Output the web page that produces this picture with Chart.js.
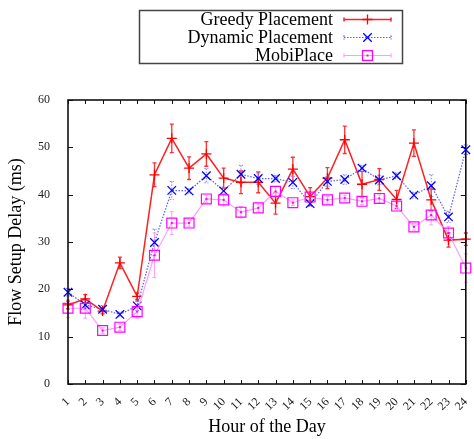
<!DOCTYPE html>
<html>
<head>
<meta charset="utf-8">
<script src="https://cdn.jsdelivr.net/npm/chart.js@4/dist/chart.umd.min.js"></script>
<style>
  html, body { margin: 0; padding: 0; background: #fff; }
  #wrap { width: 474px; height: 439px; }
</style>
</head>
<body>
<div id="wrap"><canvas id="delayChart"></canvas></div>
<script>
const hours = ['1','2','3','4','5','6','7','8','9','10','11','12','13','14','15','16','17','18','19','20','21','22','23','24'];

const greedy    = [16.7, 18.0, 15.4, 25.6, 18.5, 44.2, 51.9, 45.6, 48.6, 43.5, 42.6, 42.6, 38.2, 45.4, 39.6, 43.5, 51.6, 42.2, 43.2, 39.0, 50.9, 38.9, 30.4, 30.6];
const greedyErr = [0.8, 0.9, 0.6, 1.2, 0.7, 2.5, 3.0, 2.4, 2.6, 2.1, 2.4, 2.2, 2.3, 2.5, 1.9, 2.2, 2.9, 2.7, 2.3, 1.9, 2.8, 2.3, 1.5, 1.3];

const dynamic    = [19.4, 16.7, 15.8, 14.7, 16.5, 29.9, 40.9, 40.8, 44.0, 40.8, 44.3, 43.4, 43.4, 42.6, 38.1, 42.8, 43.2, 45.6, 43.1, 44.0, 39.9, 41.9, 35.3, 49.5];
const dynamicErr = [0.8, 1.0, 0.8, 0.5, 1.0, 2.8, 1.9, 0.5, 1.5, 0.8, 1.9, 1.2, 0.7, 1.3, 0.6, 1.0, 1.0, 0.6, 1.0, 0.6, 0.6, 2.3, 1.2, 1.0];

const mobi    = [16.0, 16.0, 11.3, 12.0, 15.3, 27.2, 34.0, 34.0, 39.1, 38.9, 36.3, 37.2, 40.7, 38.3, 39.5, 38.9, 39.3, 38.6, 39.2, 37.6, 33.2, 35.7, 31.9, 24.5];
const mobiErr = [1.9, 2.1, 0.6, 0.7, 1.4, 4.7, 2.4, 0.7, 0.8, 1.3, 1.2, 0.8, 1.0, 0.6, 0.6, 0.7, 0.6, 0.7, 0.8, 0.8, 0.7, 2.1, 1.4, 3.0];

const seriesNames = ['Greedy Placement', 'Dynamic Placement', 'MobiPlace'];

const serif = "'Liberation Serif', 'DejaVu Serif', serif";

// gnuplot-ish extras: error bars, boxed frame with inward ticks, legend box
const gnuplotLook = {
  id: 'gnuplotLook',
  beforeDatasetsDraw(chart) {
    const ctx = chart.ctx;
    const xs = chart.scales.x, ys = chart.scales.y;
    chart.data.datasets.forEach((ds) => {
      ctx.save();
      ctx.strokeStyle = ds.errColor;
      ctx.lineWidth = ds.errWidth;
      ctx.setLineDash(ds.errDash || []);
      ds.data.forEach((v, j) => {
        const px = xs.getPixelForValue(j);
        const top = ys.getPixelForValue(v + ds.err[j]);
        const bot = ys.getPixelForValue(v - ds.err[j]);
        ctx.beginPath();
        ctx.moveTo(px, top); ctx.lineTo(px, bot);
        ctx.moveTo(px - 2, top); ctx.lineTo(px + 2, top);
        ctx.moveTo(px - 2, bot); ctx.lineTo(px + 2, bot);
        ctx.stroke();
      });
      ctx.restore();
    });
  },
  afterDatasetsDraw(chart) {
    // little dot inside the MobiPlace boxes
    const ctx = chart.ctx;
    const meta = chart.getDatasetMeta(2);
    ctx.save();
    ctx.fillStyle = '#ff00ff';
    meta.data.forEach(p => { ctx.fillRect(p.x - 1, p.y - 1, 2, 2); });
    ctx.restore();
  },
  afterDraw(chart) {
    const ctx = chart.ctx;
    const a = chart.chartArea;
    const xs = chart.scales.x, ys = chart.scales.y;
    ctx.save();
    ctx.strokeStyle = '#111';
    ctx.lineWidth = 1;
    ctx.beginPath();
    ys.ticks.forEach((t, i) => {
      const py = Math.round(ys.getPixelForTick(i)) + 0.5;
      ctx.moveTo(a.left, py); ctx.lineTo(a.left + 5, py);
      ctx.moveTo(a.right, py); ctx.lineTo(a.right - 5, py);
    });
    xs.ticks.forEach((t, i) => {
      const px = Math.round(xs.getPixelForTick(i)) + 0.5;
      ctx.moveTo(px, a.bottom); ctx.lineTo(px, a.bottom - 4);
      ctx.moveTo(px, a.top); ctx.lineTo(px, a.top + 4);
    });
    ctx.stroke();
    ctx.lineWidth = 1.6;
    ctx.strokeRect(a.left, a.top, a.right - a.left, a.bottom - a.top);

    // legend
    ctx.strokeStyle = '#444';
    ctx.lineWidth = 1.5;
    ctx.strokeRect(139.5, 10.5, 263, 53);
    ctx.font = '18px ' + serif;
    ctx.textAlign = 'right';
    ctx.textBaseline = 'middle';
    chart.data.datasets.forEach((ds, i) => {
      const y = 19.5 + i * 18;
      ctx.fillStyle = '#000';
      ctx.fillText(ds.label, 333, y + 1);
      ctx.save();
      ctx.strokeStyle = ds.borderColor;
      ctx.lineWidth = ds.borderWidth;
      ctx.setLineDash(ds.borderDash || []);
      ctx.beginPath();
      ctx.moveTo(344, y); ctx.lineTo(391, y);
      ctx.moveTo(344, y - 2); ctx.lineTo(344, y + 2);
      ctx.moveTo(391, y - 2); ctx.lineTo(391, y + 2);
      ctx.stroke();
      ctx.setLineDash([]);
      ctx.strokeStyle = ds.pointBorderColor;
      ctx.fillStyle = 'rgba(0,0,0,0)';
      ctx.lineWidth = ds.pointBorderWidth;
      Chart.helpers.drawPoint(ctx, { pointStyle: ds.pointStyle, radius: ds.pointRadius, rotation: 0, borderWidth: ds.pointBorderWidth }, 367.5, y);
      if (i === 2) { ctx.fillStyle = '#ff00ff'; ctx.fillRect(366.5, y - 1, 2, 2); }
      ctx.restore();
    });
    ctx.restore();
  }
};

new Chart(document.getElementById('delayChart'), {
  type: 'line',
  data: {
    labels: hours,
    datasets: [
      {
        label: seriesNames[0], data: greedy, err: greedyErr,
        borderColor: '#ff2020', borderWidth: 1.5,
        pointStyle: 'cross', pointRadius: 5, pointBorderColor: '#ff0000', pointBorderWidth: 1.3,
        pointBackgroundColor: 'rgba(0,0,0,0)',
        errColor: '#ff3030', errWidth: 1.3,
        order: 3, clip: false, tension: 0
      },
      {
        label: seriesNames[1], data: dynamic, err: dynamicErr,
        borderColor: '#5a5aff', borderWidth: 1.2, borderDash: [1.5, 1.5],
        pointStyle: 'crossRot', pointRadius: 6, pointBorderColor: '#0000ff', pointBorderWidth: 1.3,
        pointBackgroundColor: 'rgba(0,0,0,0)',
        errColor: '#7a7aff', errWidth: 1, errDash: [1.5, 1.5],
        order: 2, clip: false, tension: 0
      },
      {
        label: seriesNames[2], data: mobi, err: mobiErr,
        borderColor: '#ff9cff', borderWidth: 1.2,
        pointStyle: 'rect', pointRadius: 7, pointBorderColor: '#ff00ff', pointBorderWidth: 1.2,
        pointBackgroundColor: 'rgba(0,0,0,0)',
        errColor: '#ff9cff', errWidth: 1,
        order: 1, clip: false, tension: 0
      }
    ]
  },
  options: {
    responsive: true,
    maintainAspectRatio: false,
    animation: false,
    layout: { padding: { top: 100, right: 1, left: 0, bottom: 0 } },
    plugins: { legend: { display: false }, tooltip: { enabled: false } },
    scales: {
      x: {
        type: 'category',
        offset: false,
        grid: { display: false },
        border: { display: false },
        ticks: {
          autoSkip: false, maxRotation: 45, minRotation: 45, padding: 3,
          color: '#222', font: { family: serif, size: 12 }
        },
        title: {
          display: true, text: 'Hour of the Day', color: '#000',
          font: { family: serif, size: 18 }, padding: { top: 0, bottom: 1 }
        },
        afterFit: s => { s.height = 55; s.paddingRight = 0; }
      },
      y: {
        min: 0, max: 60,
        grid: { display: false },
        border: { display: false },
        ticks: { stepSize: 10, padding: 10, color: '#222', font: { family: serif, size: 12 } },
        title: {
          display: true, text: 'Flow Setup Delay (ms)', color: '#000',
          font: { family: serif, size: 18 }, padding: { top: 5, bottom: 0 }
        },
        afterFit: s => { s.width = 68; }
      }
    }
  },
  plugins: [gnuplotLook]
});
</script>
</body>
</html>
